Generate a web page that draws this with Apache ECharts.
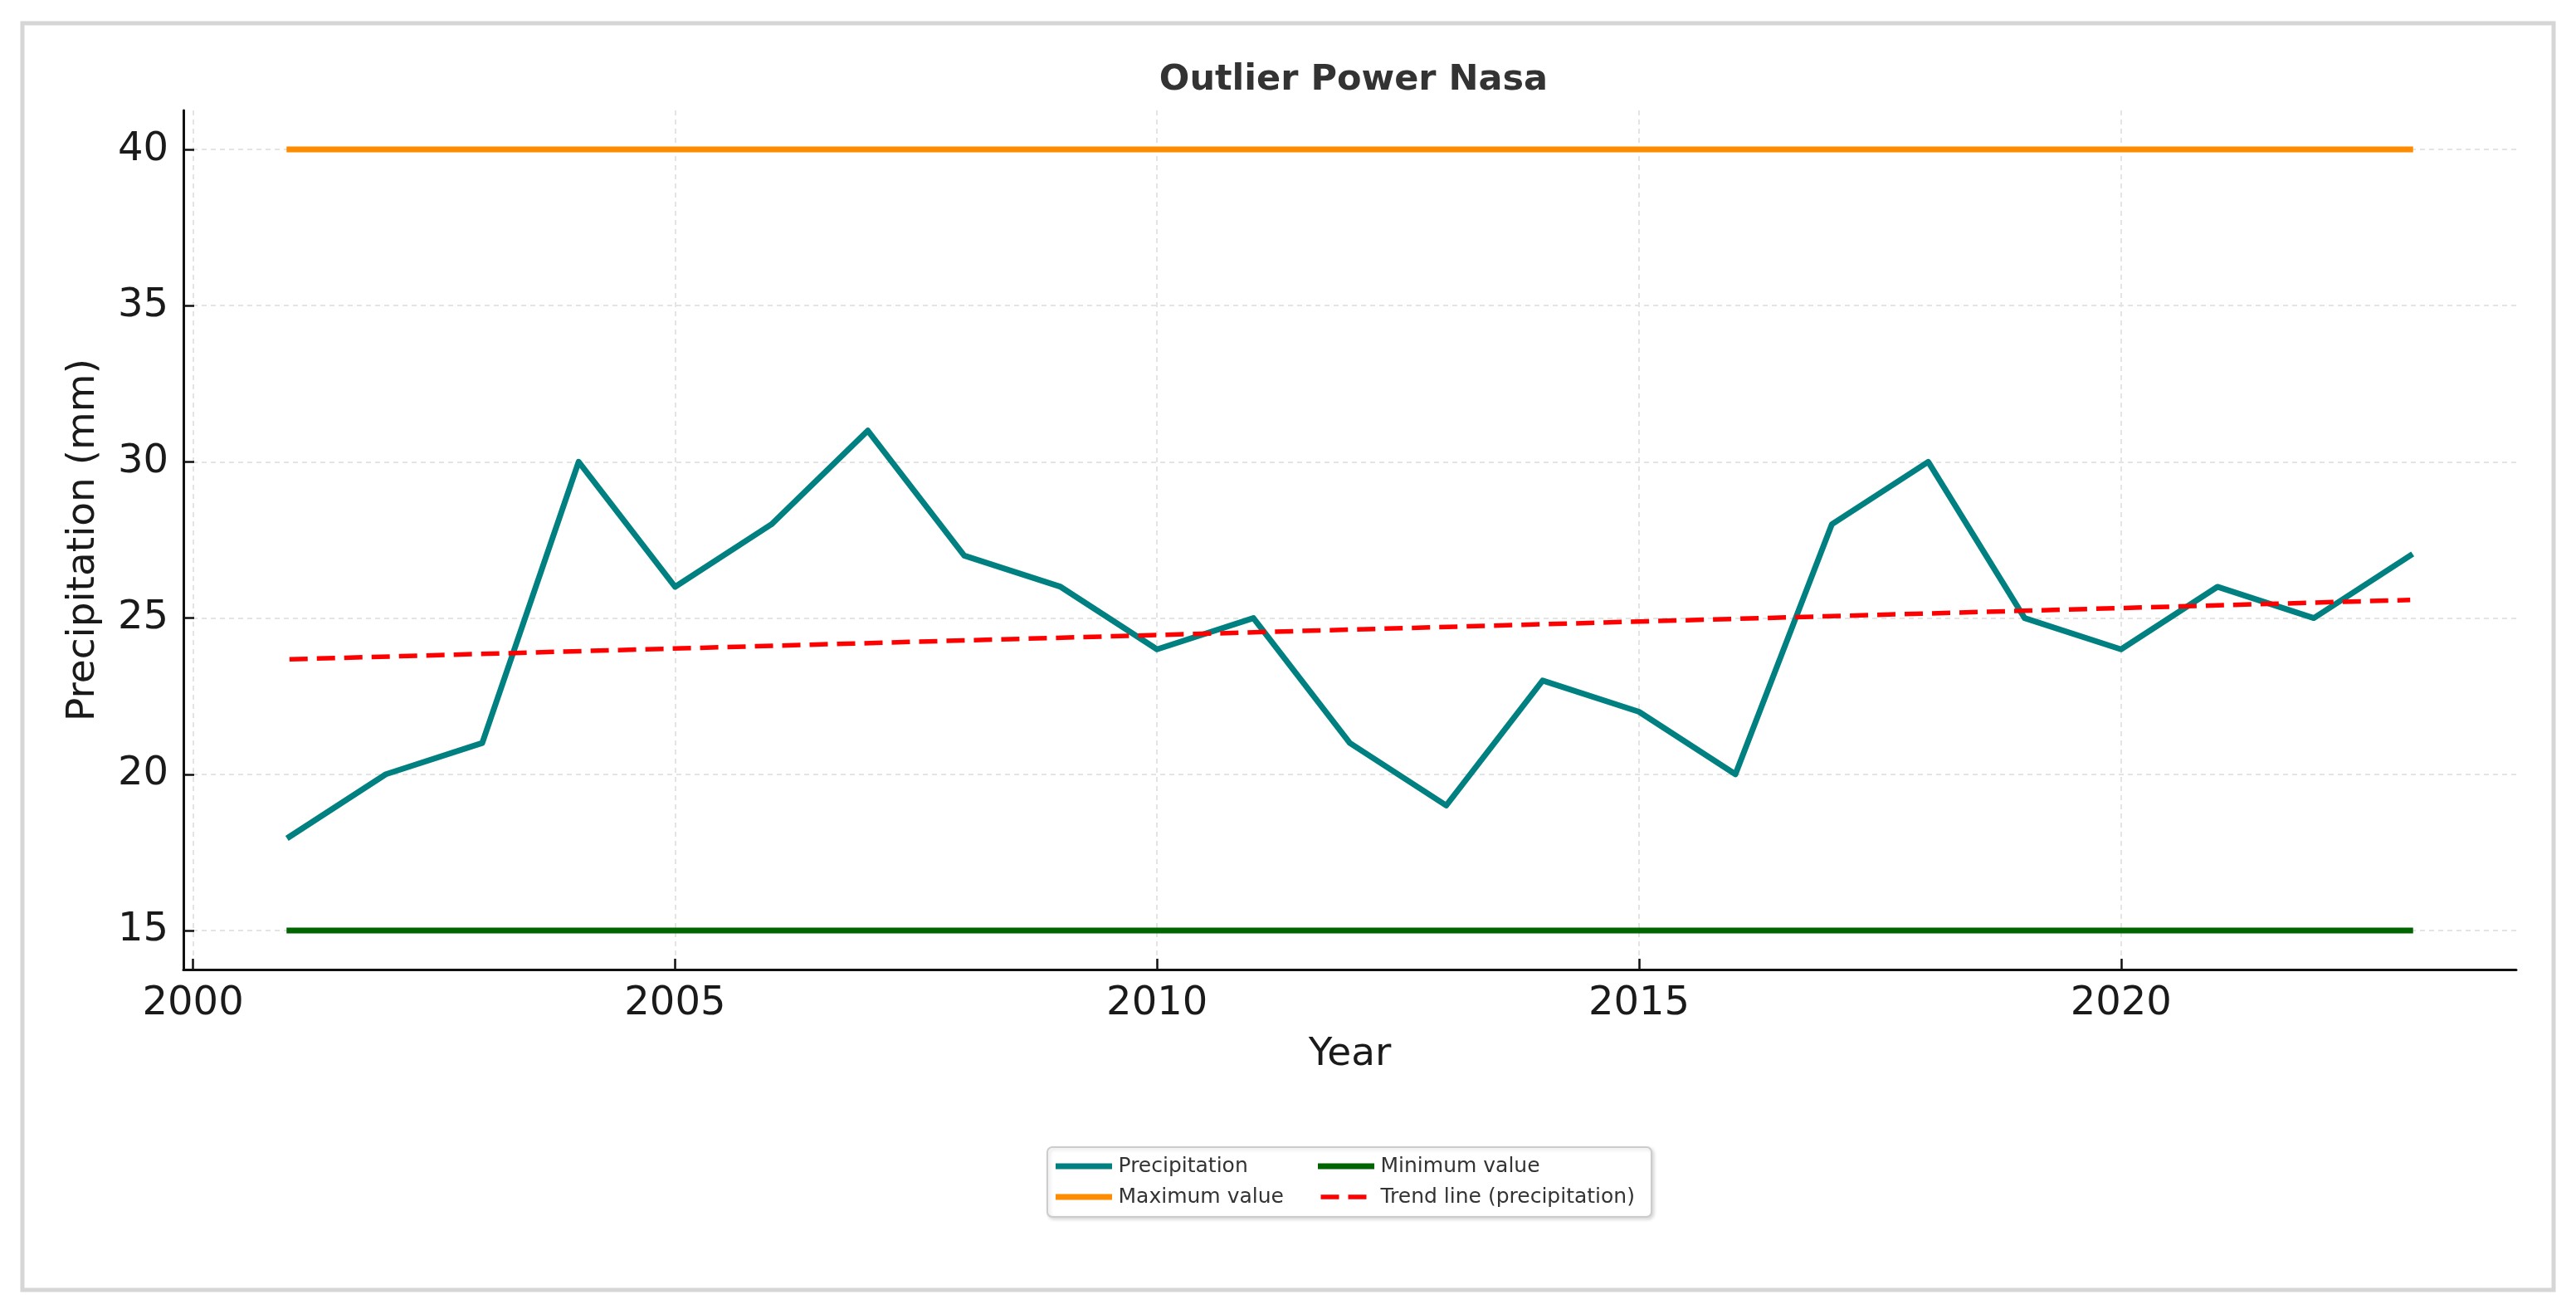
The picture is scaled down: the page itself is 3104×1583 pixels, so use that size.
<!DOCTYPE html>
<html>
<head>
<meta charset="utf-8">
<script src="https://cdn.jsdelivr.net/npm/echarts@6/dist/echarts.min.js"></script>
<style>
html,body{margin:0;padding:0;background:#fff;}
#chart{width:3104px;height:1583px;}
</style>
</head>
<body>
<div id="chart"></div>
<script>
// ---- data ----
const years = [2001,2002,2003,2004,2005,2006,2007,2008,2009,2010,2011,2012,2013,2014,2015,2016,2017,2018,2019,2020,2021,2022,2023];
const precipitation = [18,20,21,30,26,28,31,27,26,24,25,21,19,23,22,20,28,30,25,24,26,25,27];
const maxValue = 40;
const minValue = 15;
const trendYears = [2001, 2023];
const trendValues = [23.68, 25.58];
const xTicks = [2000, 2005, 2010, 2015, 2020];
const yTicks = [15, 20, 25, 30, 35, 40];

const FONT = 'DejaVu Sans';
const chart = echarts.init(document.getElementById('chart'));

const precipData = years.map((y, i) => [y, precipitation[i]]);
const maxData = [[years[0], maxValue], [years[years.length - 1], maxValue]];
const minData = [[years[0], minValue], [years[years.length - 1], minValue]];
const trendData = trendYears.map((y, i) => [y, trendValues[i]]);

const gridLine = { show: true, lineStyle: { color: '#e4e4e4', width: 2, type: [6, 5] } };

const legendCommon = {
  orient: 'vertical',
  top: 1385,
  itemWidth: 61, itemHeight: 14, itemGap: 7,
  textStyle: { fontFamily: FONT, fontSize: 25, color: '#333333', lineHeight: 30, padding: [0, 0, 0, 6] },
  itemStyle: { opacity: 0 },
  lineStyle: { width: 'inherit' },
  selectedMode: false
};

const option = {
  backgroundColor: '#ffffff',
  animation: false,
  title: {
    text: 'Outlier Power Nasa',
    left: 1626,
    top: 67,
    textAlign: 'center',
    textStyle: { fontFamily: FONT, fontWeight: 'bold', fontSize: 43, color: '#333333', lineHeight: 50 }
  },
  graphic: [
    {
      type: 'rect', z: -10, silent: true,
      shape: { x: 27, y: 28, width: 3050, height: 1526 },
      style: { fill: 'none', stroke: '#d6d6d6', lineWidth: 5 }
    },
    {
      type: 'rect', z: 0, silent: true,
      shape: { x: 1262, y: 1382, width: 728, height: 84, r: 6 },
      style: { fill: '#ffffff', stroke: '#cccccc', lineWidth: 2,
               shadowBlur: 4, shadowOffsetX: 2, shadowOffsetY: 2, shadowColor: 'rgba(0,0,0,0.15)' }
    }
  ],
  grid: { left: 221, right: 72, top: 133, bottom: 415, containLabel: false },
  xAxis: {
    type: 'value',
    min: 1999.9,
    max: 2024.1,
    name: 'Year',
    nameLocation: 'middle',
    nameGap: 79,
    nameTextStyle: { fontFamily: FONT, fontSize: 47, color: '#1a1a1a' },
    axisLine: { show: true, onZero: false, lineStyle: { color: '#111111', width: 3 } },
    axisTick: { show: true, inside: true, length: 13, customValues: xTicks, lineStyle: { color: '#111111', width: 2.5 } },
    axisLabel: { customValues: xTicks, margin: 18, fontFamily: FONT, fontSize: 48, color: '#1a1a1a', formatter: v => String(v) },
    splitLine: gridLine
  },
  yAxis: {
    type: 'value',
    min: 13.75,
    max: 41.25,
    name: 'Precipitation (mm)',
    nameLocation: 'middle',
    nameGap: 97,
    nameTextStyle: { fontFamily: FONT, fontSize: 47, color: '#1a1a1a' },
    axisLine: { show: true, onZero: false, lineStyle: { color: '#111111', width: 3 } },
    axisTick: { show: true, inside: true, length: 13, customValues: yTicks, lineStyle: { color: '#111111', width: 2.5 } },
    axisLabel: { customValues: yTicks, margin: 18, fontFamily: FONT, fontSize: 48, color: '#1a1a1a' },
    splitLine: gridLine
  },
  legend: [
    Object.assign({}, legendCommon, { left: 1267, data: ['Precipitation', 'Maximum value'] }),
    Object.assign({}, legendCommon, { left: 1583, data: ['Minimum value', 'Trend line (precipitation)'] })
  ],
  series: [
    {
      name: 'Precipitation', type: 'line', data: precipData, showSymbol: false, symbol: 'none',
      z: 4,
      lineStyle: { color: '#008080', width: 7, join: 'round', cap: 'square' },
      itemStyle: { color: '#008080' }
    },
    {
      name: 'Maximum value', type: 'line', data: maxData, showSymbol: false, symbol: 'none',
      z: 3,
      lineStyle: { color: '#ff8c00', width: 7, cap: 'square' },
      itemStyle: { color: '#ff8c00' }
    },
    {
      name: 'Minimum value', type: 'line', data: minData, showSymbol: false, symbol: 'none',
      z: 3,
      lineStyle: { color: '#006400', width: 7, cap: 'square' },
      itemStyle: { color: '#006400' }
    },
    {
      name: 'Trend line (precipitation)', type: 'line', data: trendData, showSymbol: false, symbol: 'none',
      z: 5,
      lineStyle: { color: '#ff0000', width: 5.5, type: [22, 11], cap: 'butt' },
      itemStyle: { color: '#ff0000' }
    }
  ]
};
chart.setOption(option);
</script>
</body>
</html>
